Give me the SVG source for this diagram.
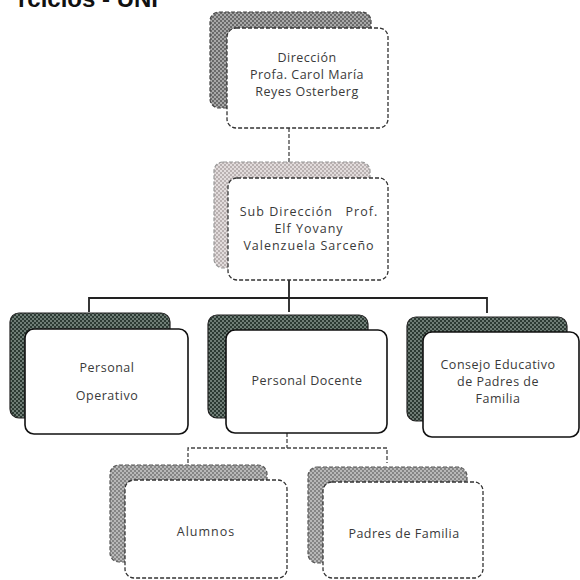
<svg xmlns="http://www.w3.org/2000/svg" width="580" height="580" viewBox="0 0 580 580">
<defs>
<pattern id="pTop" width="4" height="4" patternUnits="userSpaceOnUse"><rect width="4" height="4" fill="#a8a8a8"/><rect width="2" height="2" fill="#6a6a6a"/><rect x="2" y="2" width="2" height="2" fill="#6a6a6a"/></pattern>
<pattern id="pSub" width="4" height="4" patternUnits="userSpaceOnUse"><rect width="4" height="4" fill="#e2dcdc"/><rect width="2" height="2" fill="#b9b1b1"/><rect x="2" y="2" width="2" height="2" fill="#b9b1b1"/></pattern>
<pattern id="pMid" width="4" height="4" patternUnits="userSpaceOnUse"><rect width="4" height="4" fill="#6f7d76"/><rect width="2" height="2" fill="#2c3a33"/><rect x="2" y="2" width="2" height="2" fill="#2c3a33"/></pattern>
<pattern id="pLow" width="4" height="4" patternUnits="userSpaceOnUse"><rect width="4" height="4" fill="#b8b8b8"/><rect width="2" height="2" fill="#858585"/><rect x="2" y="2" width="2" height="2" fill="#858585"/></pattern>
</defs>
<style>
.dash{fill:#fff;stroke:#333;stroke-width:1.3;stroke-dasharray:4 2}
.solid{fill:#fff;stroke:#111;stroke-width:1.6}
.shT{fill:url(#pTop);stroke:#444;stroke-width:1.2;stroke-dasharray:4 2}
.shS{fill:url(#pSub);stroke:#999;stroke-width:1.2;stroke-dasharray:4 2}
.shM{fill:url(#pMid);stroke:#222;stroke-width:1.2}
.shL{fill:url(#pLow);stroke:#555;stroke-width:1.2;stroke-dasharray:4 2}
.t{font-family:"Open Sans","Liberation Sans",sans-serif;font-size:12.5px;fill:#3a3a3a;text-anchor:middle;letter-spacing:0.5px}
.w{letter-spacing:1px}
.c{fill:none;stroke:#222;stroke-width:1.8}
.cd{fill:none;stroke:#444;stroke-width:1.3;stroke-dasharray:4 2}
.h{font-family:"Liberation Sans",Arial,sans-serif;font-size:24px;font-weight:bold;fill:#111;text-anchor:end}
</style>
<text class="h" x="158" y="7">rcicios - UNI</text>
<g id="connectors">
<path class="cd" d="M289 128 V178"/>
<path class="c" d="M289 280 V312 M89 312 V298 H487 V313"/>
<path class="cd" d="M287 433 V448 M188 463 V448 H387 V463"/>
</g>
<g id="direccion">
<rect class="shT" x="210" y="12" width="161" height="96" rx="9"/>
<rect class="dash" x="227" y="28" width="161" height="100" rx="9"/>
<text class="t" x="307" y="62">Dirección</text>
<text class="t" x="307" y="79">Profa. Carol María</text>
<text class="t" x="307" y="96">Reyes Osterberg</text>
</g>
<g id="subdireccion">
<rect class="shS" x="214" y="162" width="156" height="106" rx="9"/>
<rect class="dash" x="228" y="178" width="160" height="102" rx="9"/>
<text class="t w" x="309" y="216" xml:space="preserve">Sub Dirección   Prof.</text>
<text class="t w" x="309" y="233">Elf Yovany</text>
<text class="t w" x="309" y="250">Valenzuela Sarceño</text>
</g>
<g id="operativo">
<rect class="shM" x="10" y="313" width="160" height="105" rx="9"/>
<rect class="solid" x="25" y="329" width="163" height="105" rx="9"/>
<text class="t" x="107" y="372">Personal</text>
<text class="t" x="107" y="400">Operativo</text>
</g>
<g id="docente">
<rect class="shM" x="208" y="315" width="160" height="103" rx="9"/>
<rect class="solid" x="226" y="330" width="161" height="103" rx="9"/>
<text class="t" x="307" y="385">Personal Docente</text>
</g>
<g id="consejo">
<rect class="shM" x="407" y="317" width="160" height="104" rx="9"/>
<rect class="solid" x="423" y="332" width="156" height="105" rx="9"/>
<text class="t" x="498" y="369">Consejo Educativo</text>
<text class="t" x="498" y="386">de Padres de</text>
<text class="t" x="498" y="403">Familia</text>
</g>
<g id="alumnos">
<rect class="shL" x="110" y="465" width="157" height="97" rx="9"/>
<rect class="dash" x="125" y="480" width="162" height="98" rx="9"/>
<text class="t w" x="206" y="536">Alumnos</text>
</g>
<g id="padres">
<rect class="shL" x="308" y="467" width="159" height="96" rx="9"/>
<rect class="dash" x="323" y="482" width="160" height="96" rx="9"/>
<text class="t" x="404" y="538">Padres de Familia</text>
</g>
</svg>
